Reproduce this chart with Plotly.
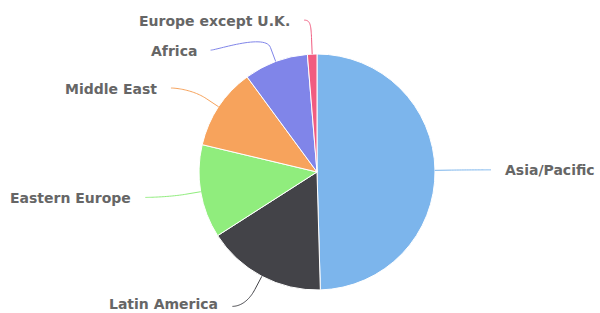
import numpy as np
import plotly.graph_objects as go

regions = ["Asia/Pacific", "Latin America", "Eastern Europe", "Middle East", "Africa", "Europe except U.K."]
shares = [49.6, 16.4, 12.8, 11.2, 8.8, 1.3]
colors = ["#7cb5ec", "#434348", "#90ed7d", "#f7a35c", "#8085e9", "#f15c80"]

W, H = 600, 313
cx, cy, r = 317, 172, 118
label_ry, label_rx = 152, 168
min_gap = 30


def px(x):
    return x / W


def py(y):
    return 1 - y / H


fig = go.Figure()
fig.add_trace(go.Pie(
    labels=regions, values=shares, sort=False, direction="clockwise", rotation=0,
    marker=dict(colors=colors, line=dict(color="white", width=1)),
    textinfo="none", hoverinfo="label+percent", showlegend=False,
    domain=dict(x=[(cx - r) / W, (cx + r) / W], y=[(H - cy - r) / H, (H - cy + r) / H]),
))

vals = np.array(shares, dtype=float)
frac = vals / vals.sum()
ends = np.cumsum(frac) * 360
starts = ends - frac * 360
mids = np.radians((starts + ends) / 2)

ys = cy - label_ry * np.cos(mids)
sides = np.where(np.degrees(mids) > 180, -1, 1)
for s in (-1, 1):
    idx = [i for i in range(len(regions)) if sides[i] == s]
    idx.sort(key=lambda i: ys[i])
    prev = None
    for i in idx:
        if prev is not None and ys[i] < prev + min_gap:
            ys[i] = prev + min_gap
        prev = ys[i]

annotations = []
shapes = []
for i, name in enumerate(regions):
    th = mids[i]
    s = sides[i]
    y = ys[i]
    ex, ey = cx + r * np.sin(th), cy - r * np.cos(th)
    bx, by = cx + (r + 15) * np.sin(th), cy - (r + 15) * np.cos(th)
    xc = cx + s * label_rx * np.sqrt(max(0.0, 1 - ((y - cy) / label_ry) ** 2))
    if s < 0:
        xc = min(xc, ex - 1)
    else:
        xc = max(xc, ex + 1)
    p0 = np.array([xc + s * 6, y])
    p1 = np.array([xc, y])
    p2 = np.array([2 * bx - ex, 2 * by - ey])
    p3 = np.array([bx, by])
    t = np.linspace(0, 1, 30)[:, None]
    curve = ((1 - t) ** 3) * p0 + 3 * ((1 - t) ** 2) * t * p1 + 3 * (1 - t) * t ** 2 * p2 + t ** 3 * p3
    pts = [(a, b) for a, b in curve] + [(ex, ey)]
    path = "M " + " L ".join(f"{px(a):.5f},{py(b):.5f}" for a, b in pts)
    shapes.append(dict(type="path", path=path, xref="paper", yref="paper",
                       line=dict(color=colors[i], width=1), layer="above"))
    ty = min(y + 0.5, H - 9)
    annotations.append(dict(
        x=px(xc + s * 18), y=py(ty), xref="paper", yref="paper", text=name, showarrow=False,
        xanchor="right" if s < 0 else "left", yanchor="middle",
        font=dict(family="DejaVu Sans", size=14, color="#666666", weight="bold"),
    ))

fig.update_layout(
    width=W, height=H, autosize=False,
    margin=dict(l=0, r=0, t=0, b=0),
    paper_bgcolor="white", plot_bgcolor="rgba(0,0,0,0)",
    annotations=annotations,
    shapes=shapes,
)

fig.write_html("out.html", config={"displayModeBar": False},
               post_script="document.body.style.margin='0';document.body.style.overflow='hidden';")
